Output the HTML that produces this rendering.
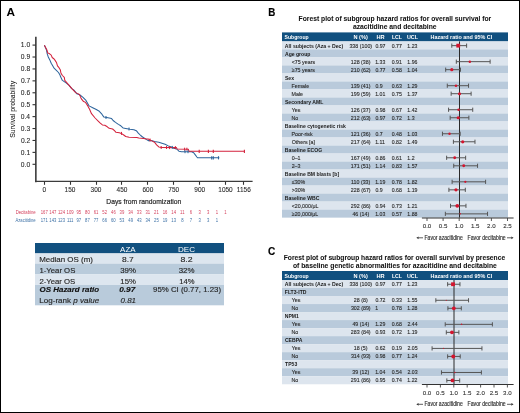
<!DOCTYPE html>
<html><head><meta charset="utf-8"><style>
html,body{margin:0;padding:0;background:#fff;}
body{width:520px;height:413px;overflow:hidden;}
.fig{position:relative;width:520px;height:413px;box-sizing:border-box;border:1px solid #000;background:#fff;}
svg{position:absolute;left:-1px;top:-1px;font-family:"Liberation Sans", sans-serif;will-change:transform;}
</style></head><body>
<div class="fig">
<svg width="520" height="413" viewBox="0 0 520 413">
<text transform="translate(6.51,15.80) scale(1.082,1)" font-size="10.90" fill="#000" font-weight="bold">A</text>
<line x1="35.85" y1="36.80" x2="35.85" y2="182.15" stroke="#3c3c3c" stroke-width="1.6"/>
<line x1="35.05" y1="181.35" x2="252.60" y2="181.35" stroke="#3c3c3c" stroke-width="1.3"/>
<line x1="32.50" y1="164.30" x2="35.85" y2="164.30" stroke="#333" stroke-width="1.1"/>
<text transform="translate(20.79,166.60) scale(1.050,1)" font-size="6.40" fill="#262626" stroke="#262626" stroke-width="0.08">0.0</text>
<line x1="32.50" y1="152.38" x2="35.85" y2="152.38" stroke="#333" stroke-width="1.1"/>
<text transform="translate(20.86,154.68) scale(1.050,1)" font-size="6.40" fill="#262626" stroke="#262626" stroke-width="0.08">0.1</text>
<line x1="32.50" y1="140.46" x2="35.85" y2="140.46" stroke="#333" stroke-width="1.1"/>
<text transform="translate(20.90,142.76) scale(1.050,1)" font-size="6.40" fill="#262626" stroke="#262626" stroke-width="0.08">0.2</text>
<line x1="32.50" y1="128.54" x2="35.85" y2="128.54" stroke="#333" stroke-width="1.1"/>
<text transform="translate(20.83,130.84) scale(1.050,1)" font-size="6.40" fill="#262626" stroke="#262626" stroke-width="0.08">0.3</text>
<line x1="32.50" y1="116.62" x2="35.85" y2="116.62" stroke="#333" stroke-width="1.1"/>
<text transform="translate(20.76,118.92) scale(1.050,1)" font-size="6.40" fill="#262626" stroke="#262626" stroke-width="0.08">0.4</text>
<line x1="32.50" y1="104.70" x2="35.85" y2="104.70" stroke="#333" stroke-width="1.1"/>
<text transform="translate(20.83,107.00) scale(1.050,1)" font-size="6.40" fill="#262626" stroke="#262626" stroke-width="0.08">0.5</text>
<line x1="32.50" y1="92.78" x2="35.85" y2="92.78" stroke="#333" stroke-width="1.1"/>
<text transform="translate(20.83,95.08) scale(1.050,1)" font-size="6.40" fill="#262626" stroke="#262626" stroke-width="0.08">0.6</text>
<line x1="32.50" y1="80.86" x2="35.85" y2="80.86" stroke="#333" stroke-width="1.1"/>
<text transform="translate(20.90,83.16) scale(1.050,1)" font-size="6.40" fill="#262626" stroke="#262626" stroke-width="0.08">0.7</text>
<line x1="32.50" y1="68.94" x2="35.85" y2="68.94" stroke="#333" stroke-width="1.1"/>
<text transform="translate(20.83,71.24) scale(1.050,1)" font-size="6.40" fill="#262626" stroke="#262626" stroke-width="0.08">0.8</text>
<line x1="32.50" y1="57.02" x2="35.85" y2="57.02" stroke="#333" stroke-width="1.1"/>
<text transform="translate(20.86,59.32) scale(1.050,1)" font-size="6.40" fill="#262626" stroke="#262626" stroke-width="0.08">0.9</text>
<line x1="32.50" y1="45.10" x2="35.85" y2="45.10" stroke="#333" stroke-width="1.1"/>
<text transform="translate(20.79,47.40) scale(1.050,1)" font-size="6.40" fill="#262626" stroke="#262626" stroke-width="0.08">1.0</text>
<line x1="44.50" y1="181.35" x2="44.50" y2="184.80" stroke="#333" stroke-width="1.1"/>
<text transform="translate(42.38,191.90) scale(0.970,1)" font-size="6.70" fill="#262626" stroke="#262626" stroke-width="0.08">0</text>
<line x1="70.50" y1="181.35" x2="70.50" y2="184.80" stroke="#333" stroke-width="1.1"/>
<text transform="translate(64.58,191.90) scale(0.970,1)" font-size="6.70" fill="#262626" stroke="#262626" stroke-width="0.08">150</text>
<line x1="96.50" y1="181.35" x2="96.50" y2="184.80" stroke="#333" stroke-width="1.1"/>
<text transform="translate(90.61,191.90) scale(0.970,1)" font-size="6.70" fill="#262626" stroke="#262626" stroke-width="0.08">300</text>
<line x1="121.50" y1="181.35" x2="121.50" y2="184.80" stroke="#333" stroke-width="1.1"/>
<text transform="translate(116.60,191.90) scale(0.970,1)" font-size="6.70" fill="#262626" stroke="#262626" stroke-width="0.08">450</text>
<line x1="147.50" y1="181.35" x2="147.50" y2="184.80" stroke="#333" stroke-width="1.1"/>
<text transform="translate(142.42,191.90) scale(0.970,1)" font-size="6.70" fill="#262626" stroke="#262626" stroke-width="0.08">600</text>
<line x1="173.50" y1="181.35" x2="173.50" y2="184.80" stroke="#333" stroke-width="1.1"/>
<text transform="translate(168.34,191.90) scale(0.970,1)" font-size="6.70" fill="#262626" stroke="#262626" stroke-width="0.08">750</text>
<line x1="199.50" y1="181.35" x2="199.50" y2="184.80" stroke="#333" stroke-width="1.1"/>
<text transform="translate(194.28,191.90) scale(0.970,1)" font-size="6.70" fill="#262626" stroke="#262626" stroke-width="0.08">900</text>
<line x1="225.50" y1="181.35" x2="225.50" y2="184.80" stroke="#333" stroke-width="1.1"/>
<text transform="translate(218.28,191.90) scale(0.970,1)" font-size="6.70" fill="#262626" stroke="#262626" stroke-width="0.08">1050</text>
<line x1="243.50" y1="181.35" x2="243.50" y2="184.80" stroke="#333" stroke-width="1.1"/>
<text transform="translate(236.86,191.90) scale(0.970,1)" font-size="6.70" fill="#262626" stroke="#262626" stroke-width="0.08">1156</text>
<text transform="translate(106.36,203.80) scale(0.866,1)" font-size="7.80" fill="#262626" stroke="#262626" stroke-width="0.2">Days from randomization</text>
<text transform="translate(15.20,137.81) rotate(-90) scale(0.882,1)" font-size="7.70" fill="#262626" stroke="#262626" stroke-width="0.08">Survival probability</text>
<text transform="translate(15.66,213.70) scale(0.848,1)" font-size="5.00" fill="#d43f5b">Decitabine</text>
<text transform="translate(15.50,221.80) scale(0.835,1)" font-size="5.00" fill="#3d71a6">Azacitidine</text>
<text transform="translate(40.71,213.70) scale(0.850,1)" font-size="5.00" fill="#d43f5b">167</text>
<text transform="translate(49.34,213.70) scale(0.850,1)" font-size="5.00" fill="#d43f5b">147</text>
<text transform="translate(57.93,213.70) scale(0.850,1)" font-size="5.00" fill="#d43f5b">124</text>
<text transform="translate(66.59,213.70) scale(0.850,1)" font-size="5.00" fill="#d43f5b">109</text>
<text transform="translate(76.45,213.70) scale(0.850,1)" font-size="5.00" fill="#d43f5b">95</text>
<text transform="translate(85.07,213.70) scale(0.850,1)" font-size="5.00" fill="#d43f5b">80</text>
<text transform="translate(93.71,213.70) scale(0.850,1)" font-size="5.00" fill="#d43f5b">61</text>
<text transform="translate(102.37,213.70) scale(0.850,1)" font-size="5.00" fill="#d43f5b">52</text>
<text transform="translate(111.02,213.70) scale(0.850,1)" font-size="5.00" fill="#d43f5b">46</text>
<text transform="translate(119.62,213.70) scale(0.850,1)" font-size="5.00" fill="#d43f5b">39</text>
<text transform="translate(128.22,213.70) scale(0.850,1)" font-size="5.00" fill="#d43f5b">34</text>
<text transform="translate(136.87,213.70) scale(0.850,1)" font-size="5.00" fill="#d43f5b">33</text>
<text transform="translate(145.51,213.70) scale(0.850,1)" font-size="5.00" fill="#d43f5b">31</text>
<text transform="translate(154.12,213.70) scale(0.850,1)" font-size="5.00" fill="#d43f5b">21</text>
<text transform="translate(162.69,213.70) scale(0.850,1)" font-size="5.00" fill="#d43f5b">16</text>
<text transform="translate(171.30,213.70) scale(0.850,1)" font-size="5.00" fill="#d43f5b">14</text>
<text transform="translate(180.12,213.70) scale(0.850,1)" font-size="5.00" fill="#d43f5b">11</text>
<text transform="translate(189.81,213.70) scale(0.850,1)" font-size="5.00" fill="#d43f5b">6</text>
<text transform="translate(198.46,213.70) scale(0.850,1)" font-size="5.00" fill="#d43f5b">3</text>
<text transform="translate(207.09,213.70) scale(0.850,1)" font-size="5.00" fill="#d43f5b">3</text>
<text transform="translate(215.66,213.70) scale(0.850,1)" font-size="5.00" fill="#d43f5b">1</text>
<text transform="translate(224.29,213.70) scale(0.850,1)" font-size="5.00" fill="#d43f5b">1</text>
<text transform="translate(40.70,221.80) scale(0.850,1)" font-size="5.00" fill="#3d71a6">171</text>
<text transform="translate(49.32,221.80) scale(0.850,1)" font-size="5.00" fill="#3d71a6">143</text>
<text transform="translate(57.95,221.80) scale(0.850,1)" font-size="5.00" fill="#3d71a6">123</text>
<text transform="translate(66.90,221.80) scale(0.850,1)" font-size="5.00" fill="#3d71a6">111</text>
<text transform="translate(76.47,221.80) scale(0.850,1)" font-size="5.00" fill="#3d71a6">97</text>
<text transform="translate(85.10,221.80) scale(0.850,1)" font-size="5.00" fill="#3d71a6">87</text>
<text transform="translate(93.72,221.80) scale(0.850,1)" font-size="5.00" fill="#3d71a6">77</text>
<text transform="translate(102.33,221.80) scale(0.850,1)" font-size="5.00" fill="#3d71a6">66</text>
<text transform="translate(110.95,221.80) scale(0.850,1)" font-size="5.00" fill="#3d71a6">60</text>
<text transform="translate(119.61,221.80) scale(0.850,1)" font-size="5.00" fill="#3d71a6">53</text>
<text transform="translate(128.29,221.80) scale(0.850,1)" font-size="5.00" fill="#3d71a6">49</text>
<text transform="translate(136.91,221.80) scale(0.850,1)" font-size="5.00" fill="#3d71a6">43</text>
<text transform="translate(145.48,221.80) scale(0.850,1)" font-size="5.00" fill="#3d71a6">34</text>
<text transform="translate(154.11,221.80) scale(0.850,1)" font-size="5.00" fill="#3d71a6">25</text>
<text transform="translate(162.70,221.80) scale(0.850,1)" font-size="5.00" fill="#3d71a6">19</text>
<text transform="translate(171.32,221.80) scale(0.850,1)" font-size="5.00" fill="#3d71a6">13</text>
<text transform="translate(181.19,221.80) scale(0.850,1)" font-size="5.00" fill="#3d71a6">8</text>
<text transform="translate(189.83,221.80) scale(0.850,1)" font-size="5.00" fill="#3d71a6">7</text>
<text transform="translate(198.46,221.80) scale(0.850,1)" font-size="5.00" fill="#3d71a6">3</text>
<text transform="translate(207.09,221.80) scale(0.850,1)" font-size="5.00" fill="#3d71a6">3</text>
<text transform="translate(215.66,221.80) scale(0.850,1)" font-size="5.00" fill="#3d71a6">1</text>
<path d="M44.40,45.20 L46.40,49.70 L47.30,54.10 L48.30,57.00 L49.80,59.90 L51.20,63.30 L52.70,65.80 L54.10,68.20 L56.10,70.10 L58.50,72.50 L60.00,75.00 L60.60,76.80 L62.40,80.40 L66.10,82.90 L69.10,85.30 L71.50,88.30 L73.90,90.10 L76.90,93.80 L80.00,95.00 L83.00,97.40 L86.00,100.40 L89.10,105.90 L92.70,107.70 L96.30,109.50 L99.30,111.30 L101.90,114.20 L103.90,117.10 L106.80,117.60 L111.60,118.60 L113.10,120.50 L115.50,122.40 L118.40,124.40 L120.80,125.80 L123.30,128.10 L125.70,128.40 L130.00,129.20 L133.90,129.70 L136.30,130.70 L138.30,133.10 L140.70,135.50 L142.60,137.00 L145.50,138.90 L148.20,140.60 L151.30,140.60 L154.50,141.60 L158.80,142.20 L161.90,143.20 L165.10,144.30 L168.30,145.90 L171.50,146.90 L173.60,148.20 L176.70,149.00 L178.90,151.20 L181.50,151.70 L191.60,151.70 L193.70,152.80 L195.30,154.90 L196.90,157.00 L197.60,157.80 L219.30,157.80" fill="none" stroke="#2d649c" stroke-width="1.05" stroke-linejoin="round"/>
<path d="M44.40,45.20 L46.80,49.70 L47.80,53.10 L49.30,53.60 L51.20,55.10 L52.20,57.50 L54.10,59.00 L55.10,60.40 L56.60,62.80 L57.50,65.80 L59.00,67.70 L60.40,70.10 L60.90,73.00 L62.40,75.50 L64.30,77.40 L64.80,80.40 L68.50,84.70 L72.10,88.90 L75.70,92.60 L79.40,94.40 L81.20,98.60 L83.60,101.60 L85.40,102.20 L87.80,105.90 L89.70,109.50 L91.50,113.70 L95.10,118.00 L98.70,121.60 L100.00,122.90 L102.40,124.90 L104.80,125.30 L107.30,126.80 L109.20,128.30 L112.60,129.00 L114.50,130.70 L116.00,132.30 L119.40,132.80 L121.30,133.40 L123.70,135.00 L125.70,136.50 L129.10,137.30 L136.80,137.50 L138.80,138.10 L143.60,138.40 L146.50,138.90 L148.20,139.00 L151.30,140.60 L154.50,142.20 L156.60,144.80 L158.80,146.90 L161.90,147.50 L176.50,147.60 L177.20,149.10 L188.30,149.20 L189.00,151.30 L244.40,151.30" fill="none" stroke="#d3223c" stroke-width="1.05" stroke-linejoin="round"/>
<line x1="199.20" y1="149.70" x2="199.20" y2="152.90" stroke="#d3223c" stroke-width="1.1"/>
<line x1="208.40" y1="149.70" x2="208.40" y2="152.90" stroke="#d3223c" stroke-width="1.1"/>
<line x1="213.30" y1="149.70" x2="213.30" y2="152.90" stroke="#d3223c" stroke-width="1.1"/>
<line x1="244.40" y1="149.70" x2="244.40" y2="152.90" stroke="#d3223c" stroke-width="1.1"/>
<line x1="161.20" y1="146.00" x2="161.20" y2="149.00" stroke="#d3223c" stroke-width="1.0"/>
<line x1="166.50" y1="146.00" x2="166.50" y2="149.00" stroke="#d3223c" stroke-width="1.0"/>
<line x1="169.60" y1="146.10" x2="169.60" y2="149.10" stroke="#d3223c" stroke-width="1.0"/>
<line x1="175.40" y1="146.10" x2="175.40" y2="149.10" stroke="#d3223c" stroke-width="1.0"/>
<line x1="184.60" y1="147.70" x2="184.60" y2="150.70" stroke="#d3223c" stroke-width="1.0"/>
<line x1="186.90" y1="147.70" x2="186.90" y2="150.70" stroke="#d3223c" stroke-width="1.0"/>
<line x1="121.50" y1="131.90" x2="121.50" y2="134.90" stroke="#d3223c" stroke-width="1.0"/>
<line x1="150.00" y1="138.50" x2="150.00" y2="141.50" stroke="#d3223c" stroke-width="1.0"/>
<line x1="172.30" y1="145.90" x2="172.30" y2="148.90" stroke="#2d649c" stroke-width="1.0"/>
<line x1="185.00" y1="150.20" x2="185.00" y2="153.20" stroke="#2d649c" stroke-width="1.0"/>
<line x1="188.00" y1="150.20" x2="188.00" y2="153.20" stroke="#2d649c" stroke-width="1.0"/>
<line x1="106.00" y1="116.00" x2="106.00" y2="119.00" stroke="#2d649c" stroke-width="1.0"/>
<line x1="129.00" y1="127.50" x2="129.00" y2="130.50" stroke="#2d649c" stroke-width="1.0"/>
<line x1="211.70" y1="156.20" x2="211.70" y2="159.40" stroke="#2d649c" stroke-width="1.1"/>
<line x1="213.30" y1="156.20" x2="213.30" y2="159.40" stroke="#2d649c" stroke-width="1.1"/>
<line x1="218.50" y1="156.20" x2="218.50" y2="159.40" stroke="#2d649c" stroke-width="1.1"/>
<rect x="35.00" y="243.00" width="189.00" height="10.40" fill="#11507f"/>
<rect x="35.00" y="253.40" width="189.00" height="10.20" fill="#dde6ef"/>
<rect x="35.00" y="263.60" width="189.00" height="10.80" fill="#b9cbdb"/>
<rect x="35.00" y="274.40" width="189.00" height="10.60" fill="#dde6ef"/>
<rect x="35.00" y="285.00" width="189.00" height="20.30" fill="#b9cbdb"/>
<text transform="translate(120.10,251.60) scale(1.092,1)" font-size="7.30" fill="#ffffff">AZA</text>
<text transform="translate(178.05,251.60) scale(1.106,1)" font-size="7.30" fill="#ffffff">DEC</text>
<text transform="translate(39.16,262.40) scale(1.018,1)" font-size="7.80" fill="#262626" stroke="#262626" stroke-width="0.14">Median OS (m)</text>
<text transform="translate(39.42,272.90) scale(0.995,1)" font-size="7.80" fill="#262626" stroke="#262626" stroke-width="0.14">1-Year OS</text>
<text transform="translate(39.41,283.50) scale(0.995,1)" font-size="7.80" fill="#262626" stroke="#262626" stroke-width="0.14">2-Year OS</text>
<text transform="translate(39.60,292.40) scale(1.019,1)" font-size="7.80" fill="#111" font-weight="bold" font-style="italic" stroke="#111" stroke-width="0.14">OS Hazard ratio</text>
<text transform="translate(39.36,302.90) scale(1.033,1)" font-size="7.80" fill="#262626" stroke="#262626" stroke-width="0.14">Log-rank <tspan font-style="italic">p value</tspan></text>
<text transform="translate(122.02,262.30) scale(1.079,1)" font-size="7.80" fill="#262626" stroke="#262626" stroke-width="0.14">8.7</text>
<text transform="translate(120.19,272.80) scale(1.006,1)" font-size="7.80" fill="#262626" stroke="#262626" stroke-width="0.14">39%</text>
<text transform="translate(120.32,283.50) scale(0.997,1)" font-size="7.80" fill="#262626" stroke="#262626" stroke-width="0.14">15%</text>
<text transform="translate(119.27,292.40) scale(1.055,1)" font-size="7.80" fill="#111" font-weight="bold" font-style="italic" stroke="#111" stroke-width="0.14">0.97</text>
<text transform="translate(120.54,302.90) scale(1.017,1)" font-size="7.80" fill="#262626" font-style="italic" stroke="#262626" stroke-width="0.14">0.81</text>
<text transform="translate(180.51,262.30) scale(1.119,1)" font-size="7.80" fill="#262626" stroke="#262626" stroke-width="0.14">8.2</text>
<text transform="translate(178.68,272.80) scale(1.012,1)" font-size="7.80" fill="#262626" stroke="#262626" stroke-width="0.14">32%</text>
<text transform="translate(179.23,283.50) scale(0.977,1)" font-size="7.80" fill="#262626" stroke="#262626" stroke-width="0.14">14%</text>
<text transform="translate(153.05,292.40) scale(1.006,1)" font-size="7.80" fill="#262626" stroke="#262626" stroke-width="0.14">95% CI (0.77, 1.23)</text>
<text transform="translate(268.16,15.85) scale(0.902,1)" font-size="10.90" fill="#000" font-weight="bold" stroke="#000" stroke-width="0.14">B</text>
<text transform="translate(298.56,20.90) scale(0.998,1)" font-size="6.76" fill="#111" font-weight="bold" stroke="#111" stroke-width="0.05">Forest plot of subgroup hazard ratios for overall survival for</text>
<text transform="translate(352.90,28.70)" font-size="6.76" fill="#111" font-weight="bold" stroke="#111" stroke-width="0.05">azacitidine and decitabine</text>
<rect x="282.00" y="32.40" width="226.00" height="9.00" fill="#11507f"/>
<text transform="translate(284.55,39.20) scale(0.853,1)" font-size="6.00" fill="#ffffff" font-weight="bold">Subgroup</text>
<text transform="translate(353.44,39.20) scale(0.936,1)" font-size="6.00" fill="#ffffff" font-weight="bold">N (%)</text>
<text transform="translate(376.53,39.20) scale(0.947,1)" font-size="6.00" fill="#ffffff" font-weight="bold">HR</text>
<text transform="translate(391.96,39.20) scale(0.865,1)" font-size="6.00" fill="#ffffff" font-weight="bold">LCL</text>
<text transform="translate(406.98,39.20) scale(0.899,1)" font-size="6.00" fill="#ffffff" font-weight="bold">UCL</text>
<text transform="translate(430.55,39.20) scale(0.903,1)" font-size="6.00" fill="#ffffff" font-weight="bold">Hazard ratio and 95% CI</text>
<rect x="282.00" y="41.40" width="226.00" height="8.03" fill="#dde5ee"/>
<rect x="282.00" y="49.41" width="226.00" height="8.03" fill="#b9cadb"/>
<rect x="282.00" y="57.42" width="226.00" height="8.03" fill="#dde5ee"/>
<rect x="282.00" y="65.43" width="226.00" height="8.03" fill="#b9cadb"/>
<rect x="282.00" y="73.44" width="226.00" height="8.03" fill="#dde5ee"/>
<rect x="282.00" y="81.45" width="226.00" height="8.03" fill="#b9cadb"/>
<rect x="282.00" y="89.46" width="226.00" height="8.03" fill="#dde5ee"/>
<rect x="282.00" y="97.47" width="226.00" height="8.03" fill="#b9cadb"/>
<rect x="282.00" y="105.48" width="226.00" height="8.03" fill="#dde5ee"/>
<rect x="282.00" y="113.49" width="226.00" height="8.03" fill="#b9cadb"/>
<rect x="282.00" y="121.50" width="226.00" height="8.03" fill="#dde5ee"/>
<rect x="282.00" y="129.51" width="226.00" height="8.03" fill="#b9cadb"/>
<rect x="282.00" y="137.52" width="226.00" height="8.03" fill="#dde5ee"/>
<rect x="282.00" y="145.53" width="226.00" height="8.03" fill="#b9cadb"/>
<rect x="282.00" y="153.54" width="226.00" height="8.03" fill="#dde5ee"/>
<rect x="282.00" y="161.55" width="226.00" height="8.03" fill="#b9cadb"/>
<rect x="282.00" y="169.56" width="226.00" height="8.03" fill="#dde5ee"/>
<rect x="282.00" y="177.57" width="226.00" height="8.03" fill="#b9cadb"/>
<rect x="282.00" y="185.58" width="226.00" height="8.03" fill="#dde5ee"/>
<rect x="282.00" y="193.59" width="226.00" height="8.03" fill="#b9cadb"/>
<rect x="282.00" y="201.60" width="226.00" height="8.03" fill="#dde5ee"/>
<rect x="282.00" y="209.61" width="226.00" height="8.03" fill="#b9cadb"/>
<line x1="459.50" y1="41.40" x2="459.50" y2="217.62" stroke="#2a2a2a" stroke-width="1.0"/>
<text transform="translate(284.87,47.50) scale(0.890,1)" font-size="5.80" fill="#1a1a1a" font-weight="bold" stroke-width="0">All subjects (Aza + Dec)</text>
<text transform="translate(349.41,47.50) scale(0.930,1)" font-size="5.70" fill="#2a2a2a" stroke="#2a2a2a" stroke-width="0.12">338 (100)</text>
<text transform="translate(375.39,47.50) scale(0.910,1)" font-size="5.70" fill="#2a2a2a" stroke="#2a2a2a" stroke-width="0.12">0.97</text>
<text transform="translate(391.69,47.50) scale(0.910,1)" font-size="5.70" fill="#2a2a2a" stroke="#2a2a2a" stroke-width="0.12">0.77</text>
<text transform="translate(407.31,47.50) scale(0.910,1)" font-size="5.70" fill="#2a2a2a" stroke="#2a2a2a" stroke-width="0.12">1.23</text>
<line x1="451.79" y1="45.65" x2="466.61" y2="45.65" stroke="#555555" stroke-width="1.0"/>
<line x1="451.79" y1="43.55" x2="451.79" y2="47.75" stroke="#555555" stroke-width="1.0"/>
<line x1="466.61" y1="43.55" x2="466.61" y2="47.75" stroke="#555555" stroke-width="1.0"/>
<rect x="456.33" y="43.75" width="3.80" height="3.80" fill="#d4142e"/>
<text transform="translate(284.97,55.51) scale(0.880,1)" font-size="5.80" fill="#1a1a1a" font-weight="bold" stroke-width="0">Age group</text>
<text transform="translate(291.63,63.52) scale(0.930,1)" font-size="5.70" fill="#2a2a2a" stroke="#2a2a2a" stroke-width="0.12">&lt;75 years</text>
<text transform="translate(350.80,63.52) scale(0.930,1)" font-size="5.70" fill="#2a2a2a" stroke="#2a2a2a" stroke-width="0.12">128 (38)</text>
<text transform="translate(375.21,63.52) scale(0.910,1)" font-size="5.70" fill="#2a2a2a" stroke="#2a2a2a" stroke-width="0.12">1.33</text>
<text transform="translate(391.69,63.52) scale(0.910,1)" font-size="5.70" fill="#2a2a2a" stroke="#2a2a2a" stroke-width="0.12">0.91</text>
<text transform="translate(407.31,63.52) scale(0.910,1)" font-size="5.70" fill="#2a2a2a" stroke="#2a2a2a" stroke-width="0.12">1.96</text>
<line x1="456.30" y1="61.67" x2="490.11" y2="61.67" stroke="#555555" stroke-width="1.0"/>
<line x1="456.30" y1="59.57" x2="456.30" y2="63.77" stroke="#555555" stroke-width="1.0"/>
<line x1="490.11" y1="59.57" x2="490.11" y2="63.77" stroke="#555555" stroke-width="1.0"/>
<circle cx="469.83" cy="61.67" r="1.24" fill="#d4142e"/>
<text transform="translate(291.74,71.53) scale(0.930,1)" font-size="5.70" fill="#2a2a2a" stroke="#2a2a2a" stroke-width="0.12">≥75 years</text>
<text transform="translate(350.87,71.53) scale(0.930,1)" font-size="5.70" fill="#2a2a2a" stroke="#2a2a2a" stroke-width="0.12">210 (62)</text>
<text transform="translate(375.39,71.53) scale(0.910,1)" font-size="5.70" fill="#2a2a2a" stroke="#2a2a2a" stroke-width="0.12">0.77</text>
<text transform="translate(391.69,71.53) scale(0.910,1)" font-size="5.70" fill="#2a2a2a" stroke="#2a2a2a" stroke-width="0.12">0.58</text>
<text transform="translate(407.31,71.53) scale(0.910,1)" font-size="5.70" fill="#2a2a2a" stroke="#2a2a2a" stroke-width="0.12">1.04</text>
<line x1="445.68" y1="69.68" x2="460.49" y2="69.68" stroke="#555555" stroke-width="1.0"/>
<line x1="445.68" y1="67.58" x2="445.68" y2="71.78" stroke="#555555" stroke-width="1.0"/>
<line x1="460.49" y1="67.58" x2="460.49" y2="71.78" stroke="#555555" stroke-width="1.0"/>
<circle cx="451.79" cy="69.68" r="1.59" fill="#d4142e"/>
<text transform="translate(284.95,79.54) scale(0.880,1)" font-size="5.80" fill="#1a1a1a" font-weight="bold" stroke-width="0">Sex</text>
<text transform="translate(291.48,87.55) scale(0.930,1)" font-size="5.70" fill="#2a2a2a" stroke="#2a2a2a" stroke-width="0.12">Female</text>
<text transform="translate(350.80,87.55) scale(0.930,1)" font-size="5.70" fill="#2a2a2a" stroke="#2a2a2a" stroke-width="0.12">139 (41)</text>
<text transform="translate(375.39,87.55) scale(0.910,1)" font-size="5.70" fill="#2a2a2a" stroke="#2a2a2a" stroke-width="0.12">0.9</text>
<text transform="translate(391.69,87.55) scale(0.910,1)" font-size="5.70" fill="#2a2a2a" stroke="#2a2a2a" stroke-width="0.12">0.63</text>
<text transform="translate(407.31,87.55) scale(0.910,1)" font-size="5.70" fill="#2a2a2a" stroke="#2a2a2a" stroke-width="0.12">1.29</text>
<line x1="447.29" y1="85.70" x2="468.54" y2="85.70" stroke="#555555" stroke-width="1.0"/>
<line x1="447.29" y1="83.60" x2="447.29" y2="87.80" stroke="#555555" stroke-width="1.0"/>
<line x1="468.54" y1="83.60" x2="468.54" y2="87.80" stroke="#555555" stroke-width="1.0"/>
<circle cx="455.98" cy="85.70" r="1.30" fill="#d4142e"/>
<text transform="translate(291.48,95.56) scale(0.930,1)" font-size="5.70" fill="#2a2a2a" stroke="#2a2a2a" stroke-width="0.12">Male</text>
<text transform="translate(350.80,95.56) scale(0.930,1)" font-size="5.70" fill="#2a2a2a" stroke="#2a2a2a" stroke-width="0.12">199 (59)</text>
<text transform="translate(375.21,95.56) scale(0.910,1)" font-size="5.70" fill="#2a2a2a" stroke="#2a2a2a" stroke-width="0.12">1.01</text>
<text transform="translate(391.69,95.56) scale(0.910,1)" font-size="5.70" fill="#2a2a2a" stroke="#2a2a2a" stroke-width="0.12">0.75</text>
<text transform="translate(407.31,95.56) scale(0.910,1)" font-size="5.70" fill="#2a2a2a" stroke="#2a2a2a" stroke-width="0.12">1.37</text>
<line x1="451.15" y1="93.71" x2="471.11" y2="93.71" stroke="#555555" stroke-width="1.0"/>
<line x1="451.15" y1="91.61" x2="451.15" y2="95.81" stroke="#555555" stroke-width="1.0"/>
<line x1="471.11" y1="91.61" x2="471.11" y2="95.81" stroke="#555555" stroke-width="1.0"/>
<circle cx="459.52" cy="93.71" r="1.55" fill="#d4142e"/>
<text transform="translate(284.95,103.57) scale(0.880,1)" font-size="5.80" fill="#1a1a1a" font-weight="bold" stroke-width="0">Secondary AML</text>
<text transform="translate(291.77,111.58) scale(0.930,1)" font-size="5.70" fill="#2a2a2a" stroke="#2a2a2a" stroke-width="0.12">Yes</text>
<text transform="translate(350.80,111.58) scale(0.930,1)" font-size="5.70" fill="#2a2a2a" stroke="#2a2a2a" stroke-width="0.12">126 (37)</text>
<text transform="translate(375.39,111.58) scale(0.910,1)" font-size="5.70" fill="#2a2a2a" stroke="#2a2a2a" stroke-width="0.12">0.98</text>
<text transform="translate(391.69,111.58) scale(0.910,1)" font-size="5.70" fill="#2a2a2a" stroke="#2a2a2a" stroke-width="0.12">0.67</text>
<text transform="translate(407.31,111.58) scale(0.910,1)" font-size="5.70" fill="#2a2a2a" stroke="#2a2a2a" stroke-width="0.12">1.42</text>
<line x1="448.57" y1="109.73" x2="472.72" y2="109.73" stroke="#555555" stroke-width="1.0"/>
<line x1="448.57" y1="107.63" x2="448.57" y2="111.83" stroke="#555555" stroke-width="1.0"/>
<line x1="472.72" y1="107.63" x2="472.72" y2="111.83" stroke="#555555" stroke-width="1.0"/>
<circle cx="458.56" cy="109.73" r="1.23" fill="#d4142e"/>
<text transform="translate(291.48,119.59) scale(0.930,1)" font-size="5.70" fill="#2a2a2a" stroke="#2a2a2a" stroke-width="0.12">No</text>
<text transform="translate(350.87,119.59) scale(0.930,1)" font-size="5.70" fill="#2a2a2a" stroke="#2a2a2a" stroke-width="0.12">212 (63)</text>
<text transform="translate(375.39,119.59) scale(0.910,1)" font-size="5.70" fill="#2a2a2a" stroke="#2a2a2a" stroke-width="0.12">0.97</text>
<text transform="translate(391.69,119.59) scale(0.910,1)" font-size="5.70" fill="#2a2a2a" stroke="#2a2a2a" stroke-width="0.12">0.72</text>
<text transform="translate(407.31,119.59) scale(0.910,1)" font-size="5.70" fill="#2a2a2a" stroke="#2a2a2a" stroke-width="0.12">1.3</text>
<line x1="450.18" y1="117.74" x2="468.86" y2="117.74" stroke="#555555" stroke-width="1.0"/>
<line x1="450.18" y1="115.64" x2="450.18" y2="119.84" stroke="#555555" stroke-width="1.0"/>
<line x1="468.86" y1="115.64" x2="468.86" y2="119.84" stroke="#555555" stroke-width="1.0"/>
<circle cx="458.23" cy="117.74" r="1.60" fill="#d4142e"/>
<text transform="translate(284.77,127.60) scale(0.880,1)" font-size="5.80" fill="#1a1a1a" font-weight="bold" stroke-width="0">Baseline cytogenetic risk</text>
<text transform="translate(291.48,135.61) scale(0.930,1)" font-size="5.70" fill="#2a2a2a" stroke="#2a2a2a" stroke-width="0.12">Poor-risk</text>
<text transform="translate(350.80,135.61) scale(0.930,1)" font-size="5.70" fill="#2a2a2a" stroke="#2a2a2a" stroke-width="0.12">121 (36)</text>
<text transform="translate(375.39,135.61) scale(0.910,1)" font-size="5.70" fill="#2a2a2a" stroke="#2a2a2a" stroke-width="0.12">0.7</text>
<text transform="translate(391.69,135.61) scale(0.910,1)" font-size="5.70" fill="#2a2a2a" stroke="#2a2a2a" stroke-width="0.12">0.48</text>
<text transform="translate(407.31,135.61) scale(0.910,1)" font-size="5.70" fill="#2a2a2a" stroke="#2a2a2a" stroke-width="0.12">1.03</text>
<line x1="442.46" y1="133.76" x2="460.17" y2="133.76" stroke="#555555" stroke-width="1.0"/>
<line x1="442.46" y1="131.66" x2="442.46" y2="135.86" stroke="#555555" stroke-width="1.0"/>
<line x1="460.17" y1="131.66" x2="460.17" y2="135.86" stroke="#555555" stroke-width="1.0"/>
<circle cx="449.54" cy="133.76" r="1.21" fill="#d4142e"/>
<text transform="translate(291.66,143.62) scale(0.930,1)" font-size="5.70" fill="#2a2a2a" stroke="#2a2a2a" stroke-width="0.12">Others [a]</text>
<text transform="translate(350.87,143.62) scale(0.930,1)" font-size="5.70" fill="#2a2a2a" stroke="#2a2a2a" stroke-width="0.12">217 (64)</text>
<text transform="translate(375.21,143.62) scale(0.910,1)" font-size="5.70" fill="#2a2a2a" stroke="#2a2a2a" stroke-width="0.12">1.11</text>
<text transform="translate(391.69,143.62) scale(0.910,1)" font-size="5.70" fill="#2a2a2a" stroke="#2a2a2a" stroke-width="0.12">0.82</text>
<text transform="translate(407.31,143.62) scale(0.910,1)" font-size="5.70" fill="#2a2a2a" stroke="#2a2a2a" stroke-width="0.12">1.49</text>
<line x1="453.40" y1="141.77" x2="474.98" y2="141.77" stroke="#555555" stroke-width="1.0"/>
<line x1="453.40" y1="139.67" x2="453.40" y2="143.87" stroke="#555555" stroke-width="1.0"/>
<line x1="474.98" y1="139.67" x2="474.98" y2="143.87" stroke="#555555" stroke-width="1.0"/>
<circle cx="462.74" cy="141.77" r="1.62" fill="#d4142e"/>
<text transform="translate(284.77,151.63) scale(0.880,1)" font-size="5.80" fill="#1a1a1a" font-weight="bold" stroke-width="0">Baseline ECOG</text>
<text transform="translate(291.69,159.64) scale(0.930,1)" font-size="5.70" fill="#2a2a2a" stroke="#2a2a2a" stroke-width="0.12">0–1</text>
<text transform="translate(350.80,159.64) scale(0.930,1)" font-size="5.70" fill="#2a2a2a" stroke="#2a2a2a" stroke-width="0.12">167 (49)</text>
<text transform="translate(375.39,159.64) scale(0.910,1)" font-size="5.70" fill="#2a2a2a" stroke="#2a2a2a" stroke-width="0.12">0.86</text>
<text transform="translate(391.69,159.64) scale(0.910,1)" font-size="5.70" fill="#2a2a2a" stroke="#2a2a2a" stroke-width="0.12">0.61</text>
<text transform="translate(407.31,159.64) scale(0.910,1)" font-size="5.70" fill="#2a2a2a" stroke="#2a2a2a" stroke-width="0.12">1.2</text>
<line x1="446.64" y1="157.79" x2="465.64" y2="157.79" stroke="#555555" stroke-width="1.0"/>
<line x1="446.64" y1="155.69" x2="446.64" y2="159.89" stroke="#555555" stroke-width="1.0"/>
<line x1="465.64" y1="155.69" x2="465.64" y2="159.89" stroke="#555555" stroke-width="1.0"/>
<circle cx="454.69" cy="157.79" r="1.42" fill="#d4142e"/>
<text transform="translate(291.63,167.65) scale(0.930,1)" font-size="5.70" fill="#2a2a2a" stroke="#2a2a2a" stroke-width="0.12">2–3</text>
<text transform="translate(350.80,167.65) scale(0.930,1)" font-size="5.70" fill="#2a2a2a" stroke="#2a2a2a" stroke-width="0.12">171 (51)</text>
<text transform="translate(375.21,167.65) scale(0.910,1)" font-size="5.70" fill="#2a2a2a" stroke="#2a2a2a" stroke-width="0.12">1.14</text>
<text transform="translate(391.69,167.65) scale(0.910,1)" font-size="5.70" fill="#2a2a2a" stroke="#2a2a2a" stroke-width="0.12">0.83</text>
<text transform="translate(407.31,167.65) scale(0.910,1)" font-size="5.70" fill="#2a2a2a" stroke="#2a2a2a" stroke-width="0.12">1.57</text>
<line x1="453.73" y1="165.80" x2="477.55" y2="165.80" stroke="#555555" stroke-width="1.0"/>
<line x1="453.73" y1="163.70" x2="453.73" y2="167.90" stroke="#555555" stroke-width="1.0"/>
<line x1="477.55" y1="163.70" x2="477.55" y2="167.90" stroke="#555555" stroke-width="1.0"/>
<circle cx="463.71" cy="165.80" r="1.44" fill="#d4142e"/>
<text transform="translate(284.77,175.66) scale(0.880,1)" font-size="5.80" fill="#1a1a1a" font-weight="bold" stroke-width="0">Baseline BM blasts [b]</text>
<text transform="translate(291.74,183.67) scale(0.930,1)" font-size="5.70" fill="#2a2a2a" stroke="#2a2a2a" stroke-width="0.12">≤30%</text>
<text transform="translate(350.99,183.67) scale(0.930,1)" font-size="5.70" fill="#2a2a2a" stroke="#2a2a2a" stroke-width="0.12">110 (33)</text>
<text transform="translate(375.21,183.67) scale(0.910,1)" font-size="5.70" fill="#2a2a2a" stroke="#2a2a2a" stroke-width="0.12">1.19</text>
<text transform="translate(391.69,183.67) scale(0.910,1)" font-size="5.70" fill="#2a2a2a" stroke="#2a2a2a" stroke-width="0.12">0.78</text>
<text transform="translate(407.31,183.67) scale(0.910,1)" font-size="5.70" fill="#2a2a2a" stroke="#2a2a2a" stroke-width="0.12">1.82</text>
<line x1="452.12" y1="181.82" x2="485.60" y2="181.82" stroke="#555555" stroke-width="1.0"/>
<line x1="452.12" y1="179.72" x2="452.12" y2="183.92" stroke="#555555" stroke-width="1.0"/>
<line x1="485.60" y1="179.72" x2="485.60" y2="183.92" stroke="#555555" stroke-width="1.0"/>
<circle cx="465.32" cy="181.82" r="1.15" fill="#d4142e"/>
<text transform="translate(291.63,191.68) scale(0.930,1)" font-size="5.70" fill="#2a2a2a" stroke="#2a2a2a" stroke-width="0.12">&gt;30%</text>
<text transform="translate(350.87,191.68) scale(0.930,1)" font-size="5.70" fill="#2a2a2a" stroke="#2a2a2a" stroke-width="0.12">228 (67)</text>
<text transform="translate(375.39,191.68) scale(0.910,1)" font-size="5.70" fill="#2a2a2a" stroke="#2a2a2a" stroke-width="0.12">0.9</text>
<text transform="translate(391.69,191.68) scale(0.910,1)" font-size="5.70" fill="#2a2a2a" stroke="#2a2a2a" stroke-width="0.12">0.68</text>
<text transform="translate(407.31,191.68) scale(0.910,1)" font-size="5.70" fill="#2a2a2a" stroke="#2a2a2a" stroke-width="0.12">1.19</text>
<line x1="448.90" y1="189.83" x2="465.32" y2="189.83" stroke="#555555" stroke-width="1.0"/>
<line x1="448.90" y1="187.73" x2="448.90" y2="191.93" stroke="#555555" stroke-width="1.0"/>
<line x1="465.32" y1="187.73" x2="465.32" y2="191.93" stroke="#555555" stroke-width="1.0"/>
<circle cx="455.98" cy="189.83" r="1.66" fill="#d4142e"/>
<text transform="translate(284.77,199.69) scale(0.880,1)" font-size="5.80" fill="#1a1a1a" font-weight="bold" stroke-width="0">Baseline WBC</text>
<text transform="translate(291.63,207.70) scale(0.930,1)" font-size="5.70" fill="#2a2a2a" stroke="#2a2a2a" stroke-width="0.12">&lt;20,000/μL</text>
<text transform="translate(350.87,207.70) scale(0.930,1)" font-size="5.70" fill="#2a2a2a" stroke="#2a2a2a" stroke-width="0.12">292 (86)</text>
<text transform="translate(375.39,207.70) scale(0.910,1)" font-size="5.70" fill="#2a2a2a" stroke="#2a2a2a" stroke-width="0.12">0.94</text>
<text transform="translate(391.69,207.70) scale(0.910,1)" font-size="5.70" fill="#2a2a2a" stroke="#2a2a2a" stroke-width="0.12">0.73</text>
<text transform="translate(407.31,207.70) scale(0.910,1)" font-size="5.70" fill="#2a2a2a" stroke="#2a2a2a" stroke-width="0.12">1.21</text>
<line x1="450.51" y1="205.85" x2="465.96" y2="205.85" stroke="#555555" stroke-width="1.0"/>
<line x1="450.51" y1="203.75" x2="450.51" y2="207.95" stroke="#555555" stroke-width="1.0"/>
<line x1="465.96" y1="203.75" x2="465.96" y2="207.95" stroke="#555555" stroke-width="1.0"/>
<circle cx="457.27" cy="205.85" r="1.88" fill="#d4142e"/>
<text transform="translate(291.74,215.71) scale(0.930,1)" font-size="5.70" fill="#2a2a2a" stroke="#2a2a2a" stroke-width="0.12">≥20,000/μL</text>
<text transform="translate(352.42,215.71) scale(0.930,1)" font-size="5.70" fill="#2a2a2a" stroke="#2a2a2a" stroke-width="0.12">46 (14)</text>
<text transform="translate(375.21,215.71) scale(0.910,1)" font-size="5.70" fill="#2a2a2a" stroke="#2a2a2a" stroke-width="0.12">1.03</text>
<text transform="translate(391.69,215.71) scale(0.910,1)" font-size="5.70" fill="#2a2a2a" stroke="#2a2a2a" stroke-width="0.12">0.57</text>
<text transform="translate(407.31,215.71) scale(0.910,1)" font-size="5.70" fill="#2a2a2a" stroke="#2a2a2a" stroke-width="0.12">1.88</text>
<line x1="445.35" y1="213.86" x2="487.54" y2="213.86" stroke="#555555" stroke-width="1.0"/>
<line x1="445.35" y1="211.76" x2="445.35" y2="215.96" stroke="#555555" stroke-width="1.0"/>
<line x1="487.54" y1="211.76" x2="487.54" y2="215.96" stroke="#555555" stroke-width="1.0"/>
<circle cx="460.17" cy="213.86" r="0.75" fill="#d4142e"/>
<line x1="421.90" y1="218.00" x2="513.60" y2="218.00" stroke="#333" stroke-width="1.1"/>
<line x1="427.00" y1="218.00" x2="427.00" y2="221.00" stroke="#444" stroke-width="0.9"/>
<text transform="translate(422.71,228.40) scale(1.080,1)" font-size="5.70" fill="#333" stroke="#333" stroke-width="0.10">0.0</text>
<line x1="443.10" y1="218.00" x2="443.10" y2="221.00" stroke="#444" stroke-width="0.9"/>
<text transform="translate(438.82,228.40) scale(1.080,1)" font-size="5.70" fill="#333" stroke="#333" stroke-width="0.10">0.5</text>
<line x1="459.20" y1="218.00" x2="459.20" y2="221.00" stroke="#444" stroke-width="0.9"/>
<text transform="translate(454.80,228.40) scale(1.080,1)" font-size="5.70" fill="#333" stroke="#333" stroke-width="0.10">1.0</text>
<line x1="475.30" y1="218.00" x2="475.30" y2="221.00" stroke="#444" stroke-width="0.9"/>
<text transform="translate(470.91,228.40) scale(1.080,1)" font-size="5.70" fill="#333" stroke="#333" stroke-width="0.10">1.5</text>
<line x1="491.40" y1="218.00" x2="491.40" y2="221.00" stroke="#444" stroke-width="0.9"/>
<text transform="translate(487.08,228.40) scale(1.080,1)" font-size="5.70" fill="#333" stroke="#333" stroke-width="0.10">2.0</text>
<line x1="507.50" y1="218.00" x2="507.50" y2="221.00" stroke="#444" stroke-width="0.9"/>
<text transform="translate(503.19,228.40) scale(1.080,1)" font-size="5.70" fill="#333" stroke="#333" stroke-width="0.10">2.5</text>
<text transform="translate(424.49,239.80) scale(0.805,1)" font-size="6.30" fill="#333" stroke="#333" stroke-width="0.18">Favor azacitidine</text>
<text transform="translate(467.59,239.80) scale(0.819,1)" font-size="6.30" fill="#333" stroke="#333" stroke-width="0.18">Favor decitabine</text>
<line x1="417.60" y1="237.80" x2="423.00" y2="237.80" stroke="#333" stroke-width="0.8"/>
<path d="M416.3,237.80 L418.8,236.40 L418.3,237.80 L418.8,239.20 Z" fill="#333"/>
<line x1="507.00" y1="237.80" x2="512.30" y2="237.80" stroke="#333" stroke-width="0.8"/>
<path d="M513.6,237.80 L511.1,236.40 L511.6,237.80 L511.1,239.20 Z" fill="#333"/>
<text transform="translate(267.90,254.90) scale(0.924,1)" font-size="10.90" fill="#000" font-weight="bold" stroke="#000" stroke-width="0.18">C</text>
<text transform="translate(283.76,260.00) scale(0.993,1)" font-size="6.76" fill="#111" font-weight="bold" stroke="#111" stroke-width="0.05">Forest plot of subgroup hazard ratios for overall survival by presence</text>
<text transform="translate(292.93,267.70) scale(1.005,1)" font-size="6.76" fill="#111" font-weight="bold" stroke="#111" stroke-width="0.05">of baseline genetic abnormalities for azacitidine and decitabine</text>
<rect x="282.00" y="271.00" width="226.00" height="9.00" fill="#11507f"/>
<text transform="translate(284.55,277.80) scale(0.853,1)" font-size="6.00" fill="#ffffff" font-weight="bold">Subgroup</text>
<text transform="translate(353.44,277.80) scale(0.936,1)" font-size="6.00" fill="#ffffff" font-weight="bold">N (%)</text>
<text transform="translate(376.53,277.80) scale(0.947,1)" font-size="6.00" fill="#ffffff" font-weight="bold">HR</text>
<text transform="translate(391.96,277.80) scale(0.865,1)" font-size="6.00" fill="#ffffff" font-weight="bold">LCL</text>
<text transform="translate(406.98,277.80) scale(0.899,1)" font-size="6.00" fill="#ffffff" font-weight="bold">UCL</text>
<text transform="translate(430.55,277.80) scale(0.903,1)" font-size="6.00" fill="#ffffff" font-weight="bold">Hazard ratio and 95% CI</text>
<rect x="282.00" y="280.00" width="226.00" height="8.04" fill="#dde5ee"/>
<rect x="282.00" y="288.02" width="226.00" height="8.04" fill="#b9cadb"/>
<rect x="282.00" y="296.04" width="226.00" height="8.04" fill="#dde5ee"/>
<rect x="282.00" y="304.06" width="226.00" height="8.04" fill="#b9cadb"/>
<rect x="282.00" y="312.08" width="226.00" height="8.04" fill="#dde5ee"/>
<rect x="282.00" y="320.10" width="226.00" height="8.04" fill="#b9cadb"/>
<rect x="282.00" y="328.12" width="226.00" height="8.04" fill="#dde5ee"/>
<rect x="282.00" y="336.14" width="226.00" height="8.04" fill="#b9cadb"/>
<rect x="282.00" y="344.16" width="226.00" height="8.04" fill="#dde5ee"/>
<rect x="282.00" y="352.18" width="226.00" height="8.04" fill="#b9cadb"/>
<rect x="282.00" y="360.20" width="226.00" height="8.04" fill="#dde5ee"/>
<rect x="282.00" y="368.22" width="226.00" height="8.04" fill="#b9cadb"/>
<rect x="282.00" y="376.24" width="226.00" height="8.04" fill="#dde5ee"/>
<line x1="454.00" y1="280.00" x2="454.00" y2="384.26" stroke="#2a2a2a" stroke-width="1.0"/>
<text transform="translate(284.87,286.10) scale(0.890,1)" font-size="5.80" fill="#1a1a1a" font-weight="bold" stroke-width="0">All subjects (Aza + Dec)</text>
<text transform="translate(349.41,286.10) scale(0.930,1)" font-size="5.70" fill="#2a2a2a" stroke="#2a2a2a" stroke-width="0.12">338 (100)</text>
<text transform="translate(375.39,286.10) scale(0.910,1)" font-size="5.70" fill="#2a2a2a" stroke="#2a2a2a" stroke-width="0.12">0.97</text>
<text transform="translate(391.69,286.10) scale(0.910,1)" font-size="5.70" fill="#2a2a2a" stroke="#2a2a2a" stroke-width="0.12">0.77</text>
<text transform="translate(407.31,286.10) scale(0.910,1)" font-size="5.70" fill="#2a2a2a" stroke="#2a2a2a" stroke-width="0.12">1.23</text>
<line x1="447.64" y1="284.25" x2="459.96" y2="284.25" stroke="#555555" stroke-width="1.0"/>
<line x1="447.64" y1="282.15" x2="447.64" y2="286.35" stroke="#555555" stroke-width="1.0"/>
<line x1="459.96" y1="282.15" x2="459.96" y2="286.35" stroke="#555555" stroke-width="1.0"/>
<rect x="451.10" y="282.35" width="3.80" height="3.80" fill="#d4142e"/>
<text transform="translate(284.77,294.12) scale(0.880,1)" font-size="5.80" fill="#1a1a1a" font-weight="bold" stroke-width="0">FLT3-ITD</text>
<text transform="translate(291.77,302.14) scale(0.930,1)" font-size="5.70" fill="#2a2a2a" stroke="#2a2a2a" stroke-width="0.12">Yes</text>
<text transform="translate(353.81,302.14) scale(0.930,1)" font-size="5.70" fill="#2a2a2a" stroke="#2a2a2a" stroke-width="0.12">28 (8)</text>
<text transform="translate(375.39,302.14) scale(0.910,1)" font-size="5.70" fill="#2a2a2a" stroke="#2a2a2a" stroke-width="0.12">0.72</text>
<text transform="translate(391.69,302.14) scale(0.910,1)" font-size="5.70" fill="#2a2a2a" stroke="#2a2a2a" stroke-width="0.12">0.33</text>
<text transform="translate(407.31,302.14) scale(0.910,1)" font-size="5.70" fill="#2a2a2a" stroke="#2a2a2a" stroke-width="0.12">1.55</text>
<line x1="435.84" y1="300.29" x2="468.54" y2="300.29" stroke="#555555" stroke-width="1.0"/>
<line x1="435.84" y1="298.19" x2="435.84" y2="302.39" stroke="#555555" stroke-width="1.0"/>
<line x1="468.54" y1="298.19" x2="468.54" y2="302.39" stroke="#555555" stroke-width="1.0"/>
<circle cx="446.30" cy="300.29" r="0.58" fill="#d4142e"/>
<text transform="translate(291.48,310.16) scale(0.930,1)" font-size="5.70" fill="#2a2a2a" stroke="#2a2a2a" stroke-width="0.12">No</text>
<text transform="translate(350.89,310.16) scale(0.930,1)" font-size="5.70" fill="#2a2a2a" stroke="#2a2a2a" stroke-width="0.12">302 (89)</text>
<text transform="translate(375.21,310.16) scale(0.910,1)" font-size="5.70" fill="#2a2a2a" stroke="#2a2a2a" stroke-width="0.12">1</text>
<text transform="translate(391.69,310.16) scale(0.910,1)" font-size="5.70" fill="#2a2a2a" stroke="#2a2a2a" stroke-width="0.12">0.78</text>
<text transform="translate(407.31,310.16) scale(0.910,1)" font-size="5.70" fill="#2a2a2a" stroke="#2a2a2a" stroke-width="0.12">1.28</text>
<line x1="447.90" y1="308.31" x2="461.30" y2="308.31" stroke="#555555" stroke-width="1.0"/>
<line x1="447.90" y1="306.21" x2="447.90" y2="310.41" stroke="#555555" stroke-width="1.0"/>
<line x1="461.30" y1="306.21" x2="461.30" y2="310.41" stroke="#555555" stroke-width="1.0"/>
<circle cx="453.80" cy="308.31" r="1.91" fill="#d4142e"/>
<text transform="translate(284.77,318.18) scale(0.880,1)" font-size="5.80" fill="#1a1a1a" font-weight="bold" stroke-width="0">NPM1</text>
<text transform="translate(291.77,326.20) scale(0.930,1)" font-size="5.70" fill="#2a2a2a" stroke="#2a2a2a" stroke-width="0.12">Yes</text>
<text transform="translate(352.42,326.20) scale(0.930,1)" font-size="5.70" fill="#2a2a2a" stroke="#2a2a2a" stroke-width="0.12">49 (14)</text>
<text transform="translate(375.21,326.20) scale(0.910,1)" font-size="5.70" fill="#2a2a2a" stroke="#2a2a2a" stroke-width="0.12">1.29</text>
<text transform="translate(391.69,326.20) scale(0.910,1)" font-size="5.70" fill="#2a2a2a" stroke="#2a2a2a" stroke-width="0.12">0.68</text>
<text transform="translate(407.44,326.20) scale(0.910,1)" font-size="5.70" fill="#2a2a2a" stroke="#2a2a2a" stroke-width="0.12">2.44</text>
<line x1="445.22" y1="324.35" x2="492.39" y2="324.35" stroke="#555555" stroke-width="1.0"/>
<line x1="445.22" y1="322.25" x2="445.22" y2="326.45" stroke="#555555" stroke-width="1.0"/>
<line x1="492.39" y1="322.25" x2="492.39" y2="326.45" stroke="#555555" stroke-width="1.0"/>
<circle cx="461.57" cy="324.35" r="0.77" fill="#d4142e"/>
<text transform="translate(291.48,334.22) scale(0.930,1)" font-size="5.70" fill="#2a2a2a" stroke="#2a2a2a" stroke-width="0.12">No</text>
<text transform="translate(350.87,334.22) scale(0.930,1)" font-size="5.70" fill="#2a2a2a" stroke="#2a2a2a" stroke-width="0.12">283 (84)</text>
<text transform="translate(375.39,334.22) scale(0.910,1)" font-size="5.70" fill="#2a2a2a" stroke="#2a2a2a" stroke-width="0.12">0.93</text>
<text transform="translate(391.69,334.22) scale(0.910,1)" font-size="5.70" fill="#2a2a2a" stroke="#2a2a2a" stroke-width="0.12">0.72</text>
<text transform="translate(407.31,334.22) scale(0.910,1)" font-size="5.70" fill="#2a2a2a" stroke="#2a2a2a" stroke-width="0.12">1.19</text>
<line x1="446.30" y1="332.37" x2="458.89" y2="332.37" stroke="#555555" stroke-width="1.0"/>
<line x1="446.30" y1="330.27" x2="446.30" y2="334.47" stroke="#555555" stroke-width="1.0"/>
<line x1="458.89" y1="330.27" x2="458.89" y2="334.47" stroke="#555555" stroke-width="1.0"/>
<circle cx="451.92" cy="332.37" r="1.85" fill="#d4142e"/>
<text transform="translate(284.90,342.24) scale(0.880,1)" font-size="5.80" fill="#1a1a1a" font-weight="bold" stroke-width="0">CEBPA</text>
<text transform="translate(291.77,350.26) scale(0.930,1)" font-size="5.70" fill="#2a2a2a" stroke="#2a2a2a" stroke-width="0.12">Yes</text>
<text transform="translate(353.74,350.26) scale(0.930,1)" font-size="5.70" fill="#2a2a2a" stroke="#2a2a2a" stroke-width="0.12">18 (5)</text>
<text transform="translate(375.39,350.26) scale(0.910,1)" font-size="5.70" fill="#2a2a2a" stroke="#2a2a2a" stroke-width="0.12">0.62</text>
<text transform="translate(391.69,350.26) scale(0.910,1)" font-size="5.70" fill="#2a2a2a" stroke="#2a2a2a" stroke-width="0.12">0.19</text>
<text transform="translate(407.44,350.26) scale(0.910,1)" font-size="5.70" fill="#2a2a2a" stroke="#2a2a2a" stroke-width="0.12">2.05</text>
<line x1="432.09" y1="348.41" x2="481.94" y2="348.41" stroke="#555555" stroke-width="1.0"/>
<line x1="432.09" y1="346.31" x2="432.09" y2="350.51" stroke="#555555" stroke-width="1.0"/>
<line x1="481.94" y1="346.31" x2="481.94" y2="350.51" stroke="#555555" stroke-width="1.0"/>
<circle cx="443.62" cy="348.41" r="0.55" fill="#d4142e"/>
<text transform="translate(291.48,358.28) scale(0.930,1)" font-size="5.70" fill="#2a2a2a" stroke="#2a2a2a" stroke-width="0.12">No</text>
<text transform="translate(350.89,358.28) scale(0.930,1)" font-size="5.70" fill="#2a2a2a" stroke="#2a2a2a" stroke-width="0.12">314 (93)</text>
<text transform="translate(375.39,358.28) scale(0.910,1)" font-size="5.70" fill="#2a2a2a" stroke="#2a2a2a" stroke-width="0.12">0.98</text>
<text transform="translate(391.69,358.28) scale(0.910,1)" font-size="5.70" fill="#2a2a2a" stroke="#2a2a2a" stroke-width="0.12">0.77</text>
<text transform="translate(407.31,358.28) scale(0.910,1)" font-size="5.70" fill="#2a2a2a" stroke="#2a2a2a" stroke-width="0.12">1.24</text>
<line x1="447.64" y1="356.43" x2="460.23" y2="356.43" stroke="#555555" stroke-width="1.0"/>
<line x1="447.64" y1="354.33" x2="447.64" y2="358.53" stroke="#555555" stroke-width="1.0"/>
<line x1="460.23" y1="354.33" x2="460.23" y2="358.53" stroke="#555555" stroke-width="1.0"/>
<circle cx="453.26" cy="356.43" r="1.95" fill="#d4142e"/>
<text transform="translate(285.05,366.30) scale(0.880,1)" font-size="5.80" fill="#1a1a1a" font-weight="bold" stroke-width="0">TP53</text>
<text transform="translate(291.77,374.32) scale(0.930,1)" font-size="5.70" fill="#2a2a2a" stroke="#2a2a2a" stroke-width="0.12">Yes</text>
<text transform="translate(352.36,374.32) scale(0.930,1)" font-size="5.70" fill="#2a2a2a" stroke="#2a2a2a" stroke-width="0.12">39 (12)</text>
<text transform="translate(375.21,374.32) scale(0.910,1)" font-size="5.70" fill="#2a2a2a" stroke="#2a2a2a" stroke-width="0.12">1.04</text>
<text transform="translate(391.69,374.32) scale(0.910,1)" font-size="5.70" fill="#2a2a2a" stroke="#2a2a2a" stroke-width="0.12">0.54</text>
<text transform="translate(407.44,374.32) scale(0.910,1)" font-size="5.70" fill="#2a2a2a" stroke="#2a2a2a" stroke-width="0.12">2.03</text>
<line x1="441.47" y1="372.47" x2="481.40" y2="372.47" stroke="#555555" stroke-width="1.0"/>
<line x1="441.47" y1="370.37" x2="441.47" y2="374.57" stroke="#555555" stroke-width="1.0"/>
<line x1="481.40" y1="370.37" x2="481.40" y2="374.57" stroke="#555555" stroke-width="1.0"/>
<circle cx="454.87" cy="372.47" r="0.69" fill="#d4142e"/>
<text transform="translate(291.48,382.34) scale(0.930,1)" font-size="5.70" fill="#2a2a2a" stroke="#2a2a2a" stroke-width="0.12">No</text>
<text transform="translate(350.87,382.34) scale(0.930,1)" font-size="5.70" fill="#2a2a2a" stroke="#2a2a2a" stroke-width="0.12">291 (86)</text>
<text transform="translate(375.39,382.34) scale(0.910,1)" font-size="5.70" fill="#2a2a2a" stroke="#2a2a2a" stroke-width="0.12">0.95</text>
<text transform="translate(391.69,382.34) scale(0.910,1)" font-size="5.70" fill="#2a2a2a" stroke="#2a2a2a" stroke-width="0.12">0.74</text>
<text transform="translate(407.31,382.34) scale(0.910,1)" font-size="5.70" fill="#2a2a2a" stroke="#2a2a2a" stroke-width="0.12">1.22</text>
<line x1="446.83" y1="380.49" x2="459.70" y2="380.49" stroke="#555555" stroke-width="1.0"/>
<line x1="446.83" y1="378.39" x2="446.83" y2="382.59" stroke="#555555" stroke-width="1.0"/>
<line x1="459.70" y1="378.39" x2="459.70" y2="382.59" stroke="#555555" stroke-width="1.0"/>
<circle cx="452.46" cy="380.49" r="1.88" fill="#d4142e"/>
<line x1="421.90" y1="384.50" x2="513.60" y2="384.50" stroke="#333" stroke-width="1.1"/>
<line x1="427.00" y1="384.50" x2="427.00" y2="387.50" stroke="#444" stroke-width="0.9"/>
<text transform="translate(422.71,394.90) scale(1.080,1)" font-size="5.70" fill="#333" stroke="#333" stroke-width="0.10">0.0</text>
<line x1="440.40" y1="384.50" x2="440.40" y2="387.50" stroke="#444" stroke-width="0.9"/>
<text transform="translate(436.12,394.90) scale(1.080,1)" font-size="5.70" fill="#333" stroke="#333" stroke-width="0.10">0.5</text>
<line x1="453.80" y1="384.50" x2="453.80" y2="387.50" stroke="#444" stroke-width="0.9"/>
<text transform="translate(449.40,394.90) scale(1.080,1)" font-size="5.70" fill="#333" stroke="#333" stroke-width="0.10">1.0</text>
<line x1="467.20" y1="384.50" x2="467.20" y2="387.50" stroke="#444" stroke-width="0.9"/>
<text transform="translate(462.81,394.90) scale(1.080,1)" font-size="5.70" fill="#333" stroke="#333" stroke-width="0.10">1.5</text>
<line x1="480.60" y1="384.50" x2="480.60" y2="387.50" stroke="#444" stroke-width="0.9"/>
<text transform="translate(476.28,394.90) scale(1.080,1)" font-size="5.70" fill="#333" stroke="#333" stroke-width="0.10">2.0</text>
<line x1="494.00" y1="384.50" x2="494.00" y2="387.50" stroke="#444" stroke-width="0.9"/>
<text transform="translate(489.69,394.90) scale(1.080,1)" font-size="5.70" fill="#333" stroke="#333" stroke-width="0.10">2.5</text>
<line x1="507.40" y1="384.50" x2="507.40" y2="387.50" stroke="#444" stroke-width="0.9"/>
<text transform="translate(503.11,394.90) scale(1.080,1)" font-size="5.70" fill="#333" stroke="#333" stroke-width="0.10">3.0</text>
<text transform="translate(424.49,406.30) scale(0.805,1)" font-size="6.30" fill="#333" stroke="#333" stroke-width="0.18">Favor azacitidine</text>
<text transform="translate(467.59,406.30) scale(0.819,1)" font-size="6.30" fill="#333" stroke="#333" stroke-width="0.18">Favor decitabine</text>
<line x1="417.60" y1="404.30" x2="423.00" y2="404.30" stroke="#333" stroke-width="0.8"/>
<path d="M416.3,404.30 L418.8,402.90 L418.3,404.30 L418.8,405.70 Z" fill="#333"/>
<line x1="507.00" y1="404.30" x2="512.30" y2="404.30" stroke="#333" stroke-width="0.8"/>
<path d="M513.6,404.30 L511.1,402.90 L511.6,404.30 L511.1,405.70 Z" fill="#333"/>
</svg>
</div>
</body></html>
